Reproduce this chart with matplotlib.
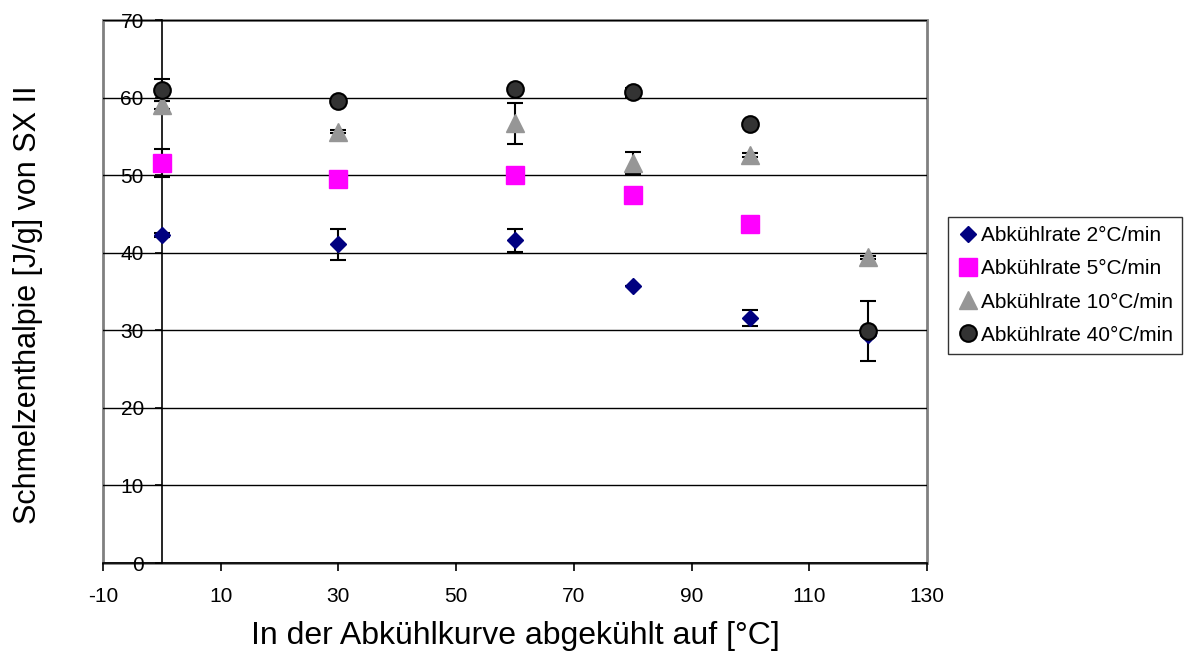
import numpy as np
import matplotlib
matplotlib.use("Agg")
import matplotlib.pyplot as plt
from matplotlib.patches import Rectangle

plt.rcParams['font.family'] = ['Liberation Sans', 'DejaVu Sans']
plt.rcParams['axes.unicode_minus'] = False

# Daten
temp = [0, 30, 60, 80, 100, 120]

rate_2 = [42.3, 41.1, 41.6, 35.7, 31.6, 29.4]
err_2 = [0.3, 2.0, 1.5, 0.0, 1.0, 0.0]

rate_5 = [51.6, 49.5, 50.0, 47.4, 43.7]
err_5 = [1.8, 0.0, 0.3, 0.0, 0.8]

rate_10 = [59.0, 55.6, 56.7, 51.6, 52.6, 39.4]
err_10 = [0.5, 0.2, 2.65, 1.4, 0.2, 0.2]

rate_40 = [61.0, 59.6, 61.1, 60.7, 56.6, 29.9]
err_40 = [1.4, 0.0, 0.0, 0.6, 0.0, 3.9]

labels = ['Abkühlrate 2°C/min', 'Abkühlrate 5°C/min',
          'Abkühlrate 10°C/min', 'Abkühlrate 40°C/min']

fig = plt.figure(figsize=(11.93, 6.53), dpi=100)
ax = fig.add_axes([0.0863, 0.1378, 0.6907, 0.8315])

eb = dict(ecolor='black', elinewidth=1.5, capsize=6, capthick=1.5, linestyle='none')

ax.errorbar(temp, rate_2, yerr=err_2, marker='D', markersize=7.8, color='#000080',
            mec='#000080', label=labels[0], zorder=3, **eb)
ax.errorbar(temp[:5], rate_5, yerr=err_5, marker='s', markersize=13, color='#FF00FF',
            mec='#FF00FF', label=labels[1], zorder=3, **eb)
ax.errorbar(temp, rate_10, yerr=err_10, marker='^', markersize=13, color='#969696',
            mec='#969696', label=labels[2], zorder=3, **eb)
ax.errorbar(temp, rate_40, yerr=err_40, marker='o', markersize=12, color='#333333',
            mec='black', mew=1.5, label=labels[3], zorder=3, **eb)

ax.set_xlim(-10, 130)
ax.set_ylim(0, 70)
ax.set_xticks(np.arange(-10, 131, 20))
ax.set_yticks(np.arange(0, 71, 10))

ax.yaxis.grid(True, color='black', linewidth=1)
ax.set_axisbelow(True)

for s in ['top', 'right']:
    ax.spines[s].set_visible(False)
ax.spines['left'].set_position(('data', 0))
ax.spines['left'].set_linewidth(1.2)
ax.spines['bottom'].set_linewidth(1.2)
ax.add_patch(Rectangle((0, 0), 1, 1, transform=ax.transAxes, fill=False,
                       edgecolor='#808080', linewidth=2, clip_on=False, zorder=0.5))

ax.tick_params(axis='both', labelsize=15, width=1.2, color='black')
ax.tick_params(axis='y', length=5, pad=8)
ax.tick_params(axis='x', length=6, pad=11)

ax.set_xlabel('In der Abkühlkurve abgekühlt auf [°C]', fontsize=23)
ax.set_ylabel('Schmelzenthalpie [J/g] von SX II', fontsize=22)
ax.xaxis.set_label_coords(0.5, -0.106)
ax.yaxis.set_label_coords(-0.073, 0.475)

handles, labs = ax.get_legend_handles_labels()
handles = [h[0] for h in handles]
leg = fig.legend(handles, labs, loc='upper left', bbox_to_anchor=(0.795, 0.668),
                 fontsize=15, frameon=True, fancybox=False, edgecolor='black',
                 handletextpad=0.1, handlelength=1.0, labelspacing=0.68,
                 borderpad=0.45, borderaxespad=0)
leg.get_frame().set_linewidth(1)

fig.savefig('out.png', dpi=100)
